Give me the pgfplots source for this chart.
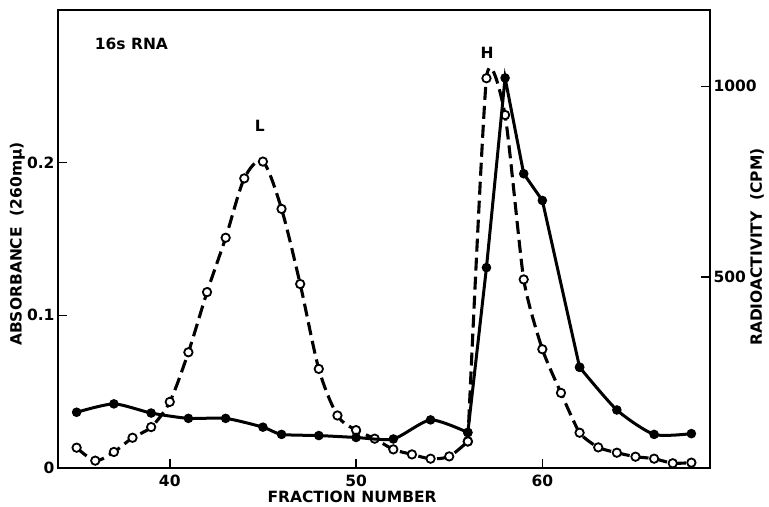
\documentclass[border=0pt]{standalone}
\usepackage{pgfplots}
\pgfplotsset{compat=1.18}
\usepackage{fontspec}
\setmainfont{DejaVu Sans}
\newcommand{\lblfont}{\fontsize{15.5}{18}\selectfont\bfseries}
\begin{document}
\begin{tikzpicture}
\pgfplotsset{
  common/.style={
    width=652pt, height=458pt, scale only axis,
    xmin=34, xmax=69,
    tick align=inside, major tick length=9pt,
    tick style={line width=1.5pt, black},
    axis line style={line width=1.8pt},
    /pgf/number format/assume math mode=true,
    tick label style={font=\lblfont},
    label style={font=\lblfont, inner sep=0pt},
  },
  dashedcurve/.style={black, line width=3.1pt, dash pattern=on 13pt off 6pt, smooth,
    mark=*, mark size=4.2pt,
    mark options={solid, fill=white, draw=black, line width=1.8pt}},
  solidcurve/.style={black, line width=3pt,
    mark=*, mark size=3.2pt, mark options={fill=black, draw=black}},
}
% Absorbance (left axis)
\begin{axis}[common,
  ymin=0, ymax=0.3,
  xtick={40,50,60}, xticklabels={40,50,60},
  ytick={0,0.1,0.2}, yticklabels={0,0.1,0.2},
  xtick pos=bottom, ytick pos=left,
  xticklabel style={yshift=-3pt},
  xlabel={FRACTION NUMBER},
  xlabel style={at={(rel axis cs:0.451,0)}, anchor=north, yshift=-23pt},
  ylabel={ABSORBANCE\ \ (260m\char"03BC)},
  ylabel style={at={(rel axis cs:-0.0506,0.489)}, anchor=south},
]
\coordinate (sw) at (rel axis cs:0,0);
\coordinate (ne) at (rel axis cs:1,1);
\addplot[dashedcurve, tension=0.5] coordinates {
 (35,0.0133) (36,0.0048) (37,0.0105) (38,0.0198) (39,0.0268) (40,0.0433)
 (41,0.0758) (42,0.1152) (43,0.1508) (44,0.1897) (45,0.2007) (46,0.1697)
 (47,0.1205) (48,0.0649) (49,0.0344) (50,0.0248) (51,0.0192) (52,0.0122)
 (53,0.0089) (54,0.0061) (55,0.0076) (56,0.0174)
};
\addplot[dashedcurve, tension=0.35] coordinates {
 (56,0.0174) (57,0.2553) (58,0.2312)
 (59,0.1235) (60,0.0778) (61,0.0492) (62,0.0231) (63,0.0135) (64,0.0100)
 (65,0.0074) (66,0.0061) (67,0.0031) (68,0.0035)
};
\node[font=\lblfont, anchor=west, inner sep=0pt] at (axis cs:35.97,0.278) {16s RNA};
\node[font=\lblfont, inner sep=0pt] at (axis cs:44.84,0.2242) {L};
\node[font=\lblfont, inner sep=0pt] at (axis cs:57.04,0.2719) {H};
\end{axis}
% Radioactivity (right axis)
\begin{axis}[common,
  ymin=0, ymax=1200,
  hide x axis,
  ytick pos=right, yticklabel pos=right,
  ytick={500,1000}, yticklabels={500,1000},
  yticklabel style={anchor=west, xshift=0pt},
  ylabel={RADIOACTIVITY\ \ (CPM)},
  ylabel style={at={(rel axis cs:1.0613,0.4825)}, anchor=north},
]
\addplot[solidcurve, smooth, tension=0.4] coordinates {
 (35,146) (37,168) (39,144) (41,130) (43,130) (45,107) (46,88) (48,85)
 (50,80) (52,76) (54,126) (56,93)
};
\addplot[solidcurve] coordinates {
 (56,93) (57,525) (58,1022) (59,771) (60,701) (62,264)
};
\addplot[solidcurve, smooth, tension=0.4] coordinates {
 (62,264) (64,152) (66,88) (68,90)
};
\end{axis}
\pgfresetboundingbox
\path ([shift={(-58pt,-39pt)}]sw) rectangle ([shift={(59pt,10pt)}]ne);
\end{tikzpicture}
\end{document}
